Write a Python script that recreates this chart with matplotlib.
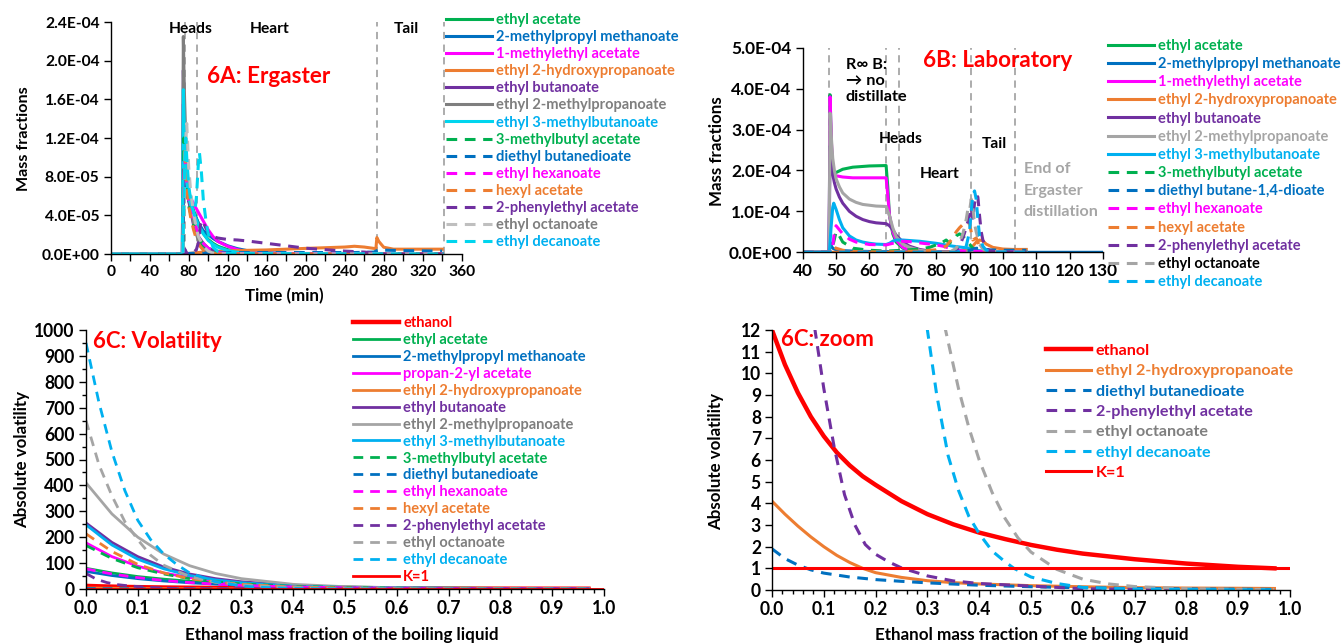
import matplotlib
matplotlib.use('Agg')
import numpy as np
import matplotlib.pyplot as plt
from matplotlib.ticker import MultipleLocator, FormatStrFormatter

plt.rcParams['font.family'] = ['Lato', 'DejaVu Sans']
plt.rcParams['font.weight'] = 'bold'
plt.rcParams['axes.labelweight'] = 'bold'

W, H = 1341, 644

GREEN = '#00B050'; BLUE = '#0070C0'; MAGENTA = '#FF00FF'; ORANGE = '#ED7D31'
PURPLE = '#7030A0'; GREY = '#7F7F7F'; LGREY = '#A5A5A5'; SILVER = '#BFBFBF'
CYAN = '#00D5EE'; SKY = '#00B0F0'; RED = '#FF0000'; VLINE = '#A6A6A6'

# ---------------- 6A: Ergaster (mass fraction x 1e-5 vs time, min) -------------
a_labels = ['ethyl acetate', '2-methylpropyl methanoate', '1-methylethyl acetate',
            'ethyl 2-hydroxypropanoate', 'ethyl butanoate', 'ethyl 2-methylpropanoate',
            'ethyl 3-methylbutanoate', '3-methylbutyl acetate', 'diethyl butanedioate',
            'ethyl hexanoate', 'hexyl acetate', '2-phenylethyl acetate',
            'ethyl octanoate', 'ethyl decanoate']
a_cuts = [76, 89, 273, 342]

a_t01 = [0, 74, 75, 76, 78, 80, 85, 90, 95, 100, 105, 110, 120, 130, 140, 160, 340]
a_y01 = [0, 0, 13.5, 11, 8, 6.5, 4.5, 3.1, 2.1, 1.5, 1.1, 0.8, 0.45, 0.25, 0.15, 0.05, 0]
a_t02 = [0, 74, 75, 76, 78, 80, 85, 90, 95, 100, 105, 110, 120, 130, 140, 160, 180, 340]
a_y02 = [0, 0, 9, 8, 6.5, 5.5, 4.3, 3.2, 2.4, 2.0, 1.6, 1.3, 0.85, 0.55, 0.35, 0.15, 0.05, 0]
a_t03 = [0, 73.5, 74.5, 76, 78, 80, 85, 90, 95, 100, 105, 110, 120, 130, 140, 160, 340]
a_y03 = [0, 0, 15.5, 10, 7.5, 6.2, 5.2, 4.3, 3.4, 2.5, 1.8, 1.3, 0.8, 0.45, 0.25, 0.07, 0]
a_t04 = [0, 78, 80, 90, 100, 120, 140, 160, 180, 200, 220, 240, 250, 260, 272, 273, 275, 280, 290, 340]
a_y04 = [0, 0, 0.05, 0.15, 0.25, 0.33, 0.38, 0.42, 0.5, 0.58, 0.65, 0.72, 0.8, 0.72, 0.55, 1.7, 1.3, 0.7, 0.5, 0.5]
a_t05 = [0, 73.5, 74.5, 76, 78, 80, 85, 90, 95, 100, 110, 120, 140, 340]
a_y05 = [0, 0, 19, 12, 8, 5.5, 3, 1.8, 1.1, 0.6, 0.2, 0.08, 0.01, 0]
a_t06 = [0, 73.5, 74.5, 75.5, 77, 78, 80, 82, 85, 88, 90, 95, 100, 110, 120, 340]
a_y06 = [0, 0, 22.5, 17, 12, 9, 6.5, 4.8, 3.2, 2.0, 1.4, 0.7, 0.25, 0.05, 0.01, 0]
a_t07 = [0, 73.5, 74.5, 76, 78, 80, 85, 90, 95, 100, 105, 110, 120, 130, 140, 160, 340]
a_y07 = [0, 0, 17, 11, 7.5, 5.8, 4.2, 3.0, 2.1, 1.4, 1.0, 0.7, 0.35, 0.18, 0.1, 0.03, 0]
a_t08 = [0, 74, 75, 76, 78, 80, 85, 90, 95, 100, 110, 120, 340]
a_y08 = [0, 0, 12, 10, 6.5, 5, 3, 1.7, 0.9, 0.5, 0.15, 0.05, 0]
a_t09 = [0, 78, 90, 150, 250, 270, 273, 276, 280, 300, 340]
a_y09 = [0, 0.05, 0.1, 0.15, 0.15, 0.2, 0.35, 0.45, 0.4, 0.35, 0.3]
a_t10 = [0, 74, 75, 76, 78, 80, 85, 90, 95, 100, 110, 120, 340]
a_y10 = [0, 0, 8, 10, 7, 5.5, 3.5, 2.0, 1.1, 0.6, 0.15, 0.03, 0]
a_t11 = [0, 74, 75, 76, 77, 78, 80, 82, 85, 88, 90, 95, 100, 110, 340]
a_y11 = [0, 0, 5, 11, 9, 7, 5, 3.8, 2.5, 1.5, 1.0, 0.4, 0.1, 0.02, 0]
a_t12 = [0, 75, 76, 77, 78, 80, 85, 88, 90, 92, 94, 97, 100, 105, 110, 120, 130, 140,
         160, 180, 200, 220, 240, 260, 272, 280, 340]
a_y12 = [0, 0, 0.5, 0.3, 0.1, 0, 0.1, 0.5, 1.2, 3.0, 3.5, 2.8, 2.2, 1.8, 1.65, 1.5, 1.45, 1.35,
         1.1, 0.85, 0.6, 0.45, 0.3, 0.2, 0.1, 0, 0]
a_t13 = [0, 74, 75, 76, 77, 78, 80, 82, 85, 88, 90, 95, 100, 105, 110, 340]
a_y13 = [0, 0, 4, 9, 12, 13.5, 9, 6.5, 4.2, 2.6, 1.8, 0.8, 0.3, 0.08, 0.02, 0]
a_t14 = [0, 74, 75, 76, 77, 78, 80, 83, 86, 88, 90, 91, 93, 95, 98, 100, 105, 110, 120, 340]
a_y14 = [0, 0, 5, 10, 12, 10, 7, 5, 4, 6, 9.5, 10.5, 8.5, 5.6, 3.2, 2.1, 0.7, 0.25, 0.05, 0]

# ---------------- 6B: Laboratory (mass fraction x 1e-4 vs time, min) -----------
b_labels = ['ethyl acetate', '2-methylpropyl methanoate', '1-methylethyl acetate',
            'ethyl 2-hydroxypropanoate', 'ethyl butanoate', 'ethyl 2-methylpropanoate',
            'ethyl 3-methylbutanoate', '3-methylbutyl acetate', 'diethyl butane-1,4-dioate',
            'ethyl hexanoate', 'hexyl acetate', '2-phenylethyl acetate',
            'ethyl octanoate', 'ethyl decanoate']
b_cuts = [48, 65, 69, 90.3, 103.6]

b_t01 = [40, 47.9, 48.2, 48.6, 49, 49.5, 50, 52, 55, 60, 65, 65.5, 66, 67, 68, 70, 72, 75, 78, 107]
b_y01 = [0, 0, 3.85, 2.6, 2.0, 1.92, 1.95, 2.03, 2.08, 2.11, 2.12, 1.6, 0.9, 0.45, 0.25, 0.1, 0.05, 0.02, 0, 0]
b_t02 = [40, 47.9, 48.2, 48.6, 49, 50, 52, 55, 60, 65, 70, 130]
b_y02 = [0, 0, 0.25, 0.15, 0.1, 0.06, 0.04, 0.03, 0.02, 0.02, 0, 0]
b_t03 = [40, 47.9, 48.2, 48.6, 49, 49.5, 50, 52, 55, 60, 65, 65.5, 66, 67, 68, 70, 72, 75, 78, 107]
b_y03 = [0, 0, 3.8, 2.7, 2.1, 1.9, 1.87, 1.84, 1.82, 1.82, 1.82, 1.4, 0.9, 0.5, 0.3, 0.12, 0.05, 0.02, 0, 0]
b_t04 = [40, 80, 85, 88, 90, 91, 92, 93, 94, 95, 97, 100, 103, 107]
b_y04 = [0, 0, 0.02, 0.05, 0.1, 0.15, 0.25, 0.3, 0.28, 0.2, 0.12, 0.08, 0.07, 0.07]
b_t05 = [40, 47.9, 48.2, 48.6, 49, 49.5, 50, 51, 52, 54, 56, 58, 60, 62, 65, 66, 67, 68, 70, 72, 75, 78, 80, 85, 107]
b_y05 = [0, 0, 2.6, 2.2, 1.9, 1.7, 1.55, 1.35, 1.2, 1.0, 0.88, 0.8, 0.75, 0.72, 0.7, 0.65, 0.55, 0.42, 0.25, 0.15, 0.07, 0.03, 0.02, 0, 0]
b_t06 = [40, 47.9, 48.2, 48.6, 49, 49.5, 50, 51, 52, 54, 56, 58, 60, 62, 65, 66, 67, 68, 70, 72, 75, 78, 80, 85, 107]
b_y06 = [0, 0, 3.4, 2.8, 2.3, 2.0, 1.8, 1.6, 1.45, 1.3, 1.22, 1.17, 1.15, 1.13, 1.12, 0.9, 0.6, 0.38, 0.2, 0.12, 0.05, 0.02, 0.01, 0, 0]
b_t07 = [40, 48, 48.5, 49, 49.3, 50, 51, 52, 54, 56, 58, 60, 62, 65, 66, 67, 68, 70, 75, 80, 85, 88, 90, 92, 95, 107]
b_y07 = [0, 0, 0.6, 1.1, 1.2, 1.05, 0.8, 0.6, 0.4, 0.3, 0.25, 0.22, 0.2, 0.19, 0.22, 0.27, 0.3, 0.3, 0.27, 0.22, 0.15, 0.12, 0.1, 0.05, 0.02, 0]
b_t08 = [40, 48.5, 49.3, 50, 51, 52, 55, 60, 65, 70, 75, 78, 80, 82, 83, 84, 85, 86, 87, 88, 89, 90, 91, 93, 95, 107]
b_y08 = [0, 0, 0.25, 0.5, 0.4, 0.25, 0.1, 0.05, 0.03, 0.05, 0.08, 0.12, 0.18, 0.25, 0.3, 0.22, 0.3, 0.4, 0.45, 0.4, 0.3, 0.2, 0.1, 0.04, 0.02, 0]
b_t09 = [40, 85, 88, 90, 92, 94, 96, 100, 107]
b_y09 = [0, 0, 0.03, 0.05, 0.1, 0.08, 0.06, 0.05, 0.05]
b_t10 = [40, 48.8, 49.5, 50, 51, 52, 54, 56, 60, 65, 67, 68, 70, 72, 75, 78, 80, 82, 84, 86, 88, 107]
b_y10 = [0, 0, 0.5, 0.65, 0.55, 0.45, 0.32, 0.25, 0.19, 0.18, 0.22, 0.25, 0.27, 0.26, 0.23, 0.2, 0.18, 0.15, 0.1, 0.06, 0.03, 0]
b_t11 = [40, 48.3, 49, 50, 52, 55, 60, 65, 70, 75, 80, 83, 85, 86, 87, 88, 89, 90, 90.5, 91, 92, 93, 94, 96, 100, 107]
b_y11 = [0, 0, 0.15, 0.1, 0.05, 0.02, 0.01, 0.01, 0.02, 0.03, 0.06, 0.15, 0.35, 0.5, 0.6, 0.68, 0.75, 0.7, 0.5, 0.3, 0.35, 0.15, 0.06, 0.02, 0, 0]
b_t12 = [40, 85, 86, 87, 88, 89, 90, 90.5, 91, 91.5, 92, 92.5, 93, 93.5, 94, 95, 96, 98, 107]
b_y12 = [0, 0, 0.05, 0.15, 0.35, 0.6, 0.9, 1.1, 0.8, 1.2, 1.4, 1.35, 0.9, 0.5, 0.3, 0.1, 0.04, 0.01, 0]
b_t13 = [40, 84, 86, 87, 88, 89, 89.5, 90, 90.5, 91, 91.5, 92, 93, 94, 96, 107]
b_y13 = [0, 0, 0.1, 0.25, 0.45, 0.8, 1.05, 1.0, 1.3, 1.1, 0.7, 0.5, 0.2, 0.08, 0.02, 0]
b_t14 = [40, 86, 88, 89, 90, 90.5, 91, 91.5, 92, 92.5, 93, 94, 95, 97, 107]
b_y14 = [0, 0, 0.05, 0.15, 0.5, 1.0, 1.4, 1.5, 1.3, 0.8, 0.4, 0.15, 0.05, 0.01, 0]

# ---------------- 6C: absolute volatility vs ethanol mass fraction ------------
c_labels = ['ethanol', 'ethyl acetate', '2-methylpropyl methanoate', 'propan-2-yl acetate',
            'ethyl 2-hydroxypropanoate', 'ethyl butanoate', 'ethyl 2-methylpropanoate',
            'ethyl 3-methylbutanoate', '3-methylbutyl acetate', 'diethyl butanedioate',
            'ethyl hexanoate', 'hexyl acetate', '2-phenylethyl acetate',
            'ethyl octanoate', 'ethyl decanoate', 'K=1']

x_eth = [0, 0.025, 0.05, 0.075, 0.1, 0.125, 0.15, 0.175, 0.2, 0.25, 0.3, 0.35, 0.4, 0.45,
         0.5, 0.55, 0.6, 0.7, 0.8, 0.9, 0.97]
k_eth = [12, 10.4, 9.1, 8.0, 7.1, 6.35, 5.75, 5.25, 4.85, 4.1, 3.5, 3.03, 2.65, 2.35,
         2.08, 1.86, 1.68, 1.42, 1.22, 1.07, 1.0]
x_grid = [0, 0.05, 0.1, 0.15, 0.2, 0.25, 0.3, 0.4, 0.5, 0.6, 0.7, 0.8, 0.9, 0.97]
k_etac = [80, 62, 48, 38, 30, 24, 19, 12, 8, 5, 3.5, 2.5, 2, 1.7]
k_mpm = [68, 52, 40, 31, 24, 19, 15, 9, 6, 4, 2.8, 2, 1.5, 1.3]
k_ipa = [178, 125, 88, 62, 44, 32, 23, 12, 7, 4, 2.5, 1.6, 1.1, 0.9]
x_lac = [0, 0.025, 0.05, 0.075, 0.1, 0.125, 0.15, 0.175, 0.2, 0.25, 0.3, 0.35, 0.4, 0.5,
         0.6, 0.7, 0.8, 0.9, 0.97]
k_lac = [4.1, 3.5, 2.95, 2.45, 2.0, 1.6, 1.27, 1.0, 0.8, 0.58, 0.43, 0.34, 0.28, 0.2,
         0.15, 0.11, 0.09, 0.08, 0.07]
k_but = [255, 180, 125, 85, 58, 40, 28, 14, 7, 4, 2.5, 1.6, 1.1, 0.9]
k_ibu = [410, 290, 200, 135, 90, 60, 40, 18, 9, 5, 3, 2, 1.3, 1]
k_mbu = [248, 170, 115, 78, 52, 35, 24, 11, 6, 3.5, 2.2, 1.4, 1, 0.8]
k_iam = [168, 118, 82, 58, 40, 28, 20, 10, 6, 3.5, 2.3, 1.6, 1.2, 1]
x_suc = [0, 0.025, 0.05, 0.075, 0.1, 0.15, 0.2, 0.25, 0.3, 0.4, 0.5, 0.6, 0.7, 0.8, 0.9, 0.97]
k_suc = [1.9, 1.45, 1.15, 0.93, 0.78, 0.6, 0.48, 0.4, 0.33, 0.22, 0.15, 0.1, 0.07, 0.05, 0.04, 0.03]
k_hex = [78, 58, 44, 33, 25, 19, 14, 8, 5, 3, 2, 1.3, 0.9, 0.7]
k_hac = [213, 145, 95, 62, 40, 27, 18, 8, 4, 2.2, 1.3, 0.8, 0.5, 0.4]
x_phe = [0, 0.02, 0.04, 0.06, 0.083, 0.1, 0.12, 0.14, 0.16, 0.18, 0.2, 0.225, 0.25, 0.3,
         0.35, 0.4, 0.5, 0.6, 0.7, 0.8, 0.9, 0.97]
k_phe = [60, 38, 25, 17, 12, 9.3, 6.6, 4.4, 3.0, 2.1, 1.65, 1.3, 1.02, 0.65,
         0.42, 0.3, 0.18, 0.06, 0.03, 0.02, 0.02, 0.02]
x_oct = [0, 0.025, 0.05, 0.075, 0.1, 0.125, 0.15, 0.2, 0.25, 0.3, 0.335, 0.36, 0.38, 0.4,
         0.425, 0.45, 0.475, 0.5, 0.55, 0.6, 0.65, 0.7, 0.8, 0.9, 0.97]
k_oct = [650, 480, 360, 260, 190, 130, 92, 48, 26, 16, 12, 9.3, 7.5, 6.0,
         4.5, 3.3, 2.4, 1.75, 0.95, 0.5, 0.28, 0.16, 0.06, 0.03, 0.02]
x_dec = [0, 0.025, 0.05, 0.075, 0.1, 0.125, 0.15, 0.175, 0.2, 0.25, 0.3, 0.318, 0.34, 0.36,
         0.38, 0.4, 0.425, 0.45, 0.467, 0.5, 0.55, 0.6, 0.7, 0.8, 0.9, 0.97]
k_dec = [950, 720, 530, 380, 265, 190, 135, 95, 62, 28, 12, 9, 6.2, 4.6,
         3.4, 2.6, 1.8, 1.3, 1.0, 0.6, 0.3, 0.12, 0.04, 0.02, 0.01, 0.01]
x_k1 = [0, 1.0]
k_k1 = [1, 1]

fig = plt.figure(figsize=(W / 100, H / 100), dpi=100)
renderer = fig.canvas.get_renderer()


def fit(s, px):
    # font size (pt) giving the string s a width of px pixels
    t = fig.text(0, 0, s, fontsize=20)
    w = t.get_window_extent(renderer).width
    t.remove()
    return 20 * px / w


def line_h(fs):
    t = fig.text(0, 0, 'lp', fontsize=fs)
    h = t.get_window_extent(renderer).height
    t.remove()
    return h


def px_axes(l, t, r, b):
    return fig.add_axes([l / W, 1 - b / H, (r - l) / W, (b - t) / H])


def ftext(x, y, s, fs, color='black', ha='left'):
    fig.text(x / W, 1 - y / H, s, fontsize=fs, color=color, ha=ha, va='center')


def style(ax, fs, xl, yl, lab_fs, xl_xy, yl_xy):
    for s in ['top', 'right']:
        ax.spines[s].set_visible(False)
    for s in ['left', 'bottom']:
        ax.spines[s].set_linewidth(1.0)
    ax.tick_params(which='both', direction='out', labelsize=fs, width=1, pad=3)
    ax.tick_params(which='major', length=5)
    ax.tick_params(which='minor', length=3)
    ax.set_xlabel(xl, fontsize=lab_fs[0], va='center')
    ax.set_ylabel(yl, fontsize=lab_fs[1], va='center')
    ax.xaxis.set_label_coords(*xl_xy)
    ax.yaxis.set_label_coords(*yl_xy)


def legend(ax, handles, labels, colors, x, y_first, fs, pitch):
    fpx = fs * 100 / 72
    h = line_h(fs)
    leg = ax.legend(handles, labels, loc='upper left',
                    bbox_to_anchor=(x / W, 1 - (y_first - h / 2) / H),
                    bbox_transform=fig.transFigure, fontsize=fs, handlelength=45.5 / fpx,
                    handletextpad=4.5 / fpx, labelspacing=(pitch - h) / fpx, borderpad=0,
                    borderaxespad=0, frameon=False)
    for txt, c in zip(leg.get_texts(), colors):
        txt.set_color(c)
    return leg


D = (3.5, 2.5)
leg_fs = fit('2-methylpropyl methanoate', 183)

# ---------- 6A ----------
ax = px_axes(110.7, 22, 461.7, 254)
a_t = [a_t01, a_t02, a_t03, a_t04, a_t05, a_t06, a_t07, a_t08, a_t09, a_t10, a_t11, a_t12, a_t13, a_t14]
a_y = [a_y01, a_y02, a_y03, a_y04, a_y05, a_y06, a_y07, a_y08, a_y09, a_y10, a_y11, a_y12, a_y13, a_y14]
a_col = [GREEN, BLUE, MAGENTA, ORANGE, PURPLE, GREY, CYAN,
         GREEN, BLUE, MAGENTA, ORANGE, PURPLE, SILVER, CYAN]
a_txt = [GREEN, BLUE, MAGENTA, ORANGE, PURPLE, GREY, SKY,
         GREEN, BLUE, MAGENTA, ORANGE, PURPLE, GREY, SKY]
for c in a_cuts:
    ax.axvline(c, color=VLINE, lw=1.3, dashes=(4, 3), zorder=1)
hs = []
for i, (t, y, c) in enumerate(zip(a_t, a_y, a_col)):
    kw = dict(dashes=D) if i >= 7 else {}
    h, = ax.plot(t, np.array(y) * 1e-5, color=c, lw=2.2, **kw)
    hs.append(h)
ax.set_xlim(0, 360)
ax.set_ylim(0, 2.4e-4)
ax.xaxis.set_major_locator(MultipleLocator(40))
ax.xaxis.set_minor_locator(MultipleLocator(20))
ax.yaxis.set_major_locator(MultipleLocator(4e-5))
ax.yaxis.set_major_formatter(FormatStrFormatter('%.1E'))
style(ax, fit('2.4E-04', 55), 'Time (min)', 'Mass fractions',
      (fit('Time (min)', 79), fit('Mass fractions', 105)), (0.495, -0.181), (-0.247, 0.498))
ax.tick_params(which='minor', length=5)
fs = fit('Heads', 44)
ftext(190.7, 29, 'Heads', fs, ha='center')
ftext(269.7, 29, 'Heart', fs, ha='center')
ftext(406.7, 29, 'Tail', fs, ha='center')
ftext(207.3, 76.7, '6A: Ergaster', fit('6A: Ergaster', 123), RED)
legend(ax, hs, a_labels, a_txt, 446, 20, leg_fs, 17.1)

# ---------- 6B ----------
ax = px_axes(802.7, 47.7, 1103, 252.3)
b_t = [b_t01, b_t02, b_t03, b_t04, b_t05, b_t06, b_t07, b_t08, b_t09, b_t10, b_t11, b_t12, b_t13, b_t14]
b_y = [b_y01, b_y02, b_y03, b_y04, b_y05, b_y06, b_y07, b_y08, b_y09, b_y10, b_y11, b_y12, b_y13, b_y14]
b_col = [GREEN, BLUE, MAGENTA, ORANGE, PURPLE, LGREY, SKY,
         GREEN, BLUE, MAGENTA, ORANGE, PURPLE, LGREY, SKY]
b_txt = [GREEN, BLUE, MAGENTA, ORANGE, PURPLE, LGREY, SKY,
         GREEN, BLUE, MAGENTA, ORANGE, PURPLE, 'black', SKY]
for c in b_cuts:
    ax.axvline(c, color=VLINE, lw=1.3, dashes=(4, 3), zorder=1)
hs = []
for i, (t, y, c) in enumerate(zip(b_t, b_y, b_col)):
    kw = dict(dashes=D) if i >= 7 else {}
    h, = ax.plot(t, np.array(y) * 1e-4, color=c, lw=2.2, **kw)
    hs.append(h)
ax.set_xlim(40, 130)
ax.set_ylim(0, 5e-4)
ax.xaxis.set_major_locator(MultipleLocator(10))
ax.yaxis.set_major_locator(MultipleLocator(1e-4))
ax.yaxis.set_major_formatter(FormatStrFormatter('%.1E'))
style(ax, fit('5.0E-04', 61), 'Time (min)', 'Mass fractions',
      (fit('Time (min)', 83), fit('Mass fractions', 110)), (0.4955, -0.209), (-0.286, 0.496))
fs = fit('distillate', 62)
ftext(845.7, 65, 'R\u221e B:', fs)
ftext(845.7, 81, '\u2192 no', fs)
ftext(845.7, 97.3, 'distillate', fs)
fs = fit('Heads', 44)
ftext(900.3, 139, 'Heads', fs, ha='center')
ftext(939.7, 174, 'Heart', fs, ha='center')
ftext(994.7, 144, 'Tail', fs, ha='center')
fs = fit('distillation', 75)
ftext(1024, 169, 'End of', fs, VLINE)
ftext(1024, 190.7, 'Ergaster', fs, VLINE)
ftext(1024, 211.7, 'distillation', fs, VLINE)
ftext(923.3, 60.7, '6B: Laboratory', fit('6B: Laboratory', 149), RED)
legend(ax, hs, b_labels, b_txt, 1108, 45.7, leg_fs, 18.2)

# ---------- 6C ----------
c_x = [x_eth, x_grid, x_grid, x_grid, x_lac, x_grid, x_grid, x_grid, x_grid, x_suc,
       x_grid, x_grid, x_phe, x_oct, x_dec, x_k1]
c_k = [k_eth, k_etac, k_mpm, k_ipa, k_lac, k_but, k_ibu, k_mbu, k_iam, k_suc,
       k_hex, k_hac, k_phe, k_oct, k_dec, k_k1]
c_col = [RED, GREEN, BLUE, MAGENTA, ORANGE, PURPLE, LGREY, SKY,
         GREEN, BLUE, MAGENTA, ORANGE, PURPLE, LGREY, SKY, RED]
c_txt = [RED, GREEN, BLUE, MAGENTA, ORANGE, PURPLE, GREY, SKY,
         GREEN, BLUE, MAGENTA, ORANGE, PURPLE, GREY, SKY, RED]
tick_fs = fit('1000', 41)
xl = 'Ethanol mass fraction of the boiling liquid'
lab_fs = (fit(xl, 313), fit('Absolute volatility', 137))

ax = px_axes(86, 330, 604, 589)
hs = []
for i, (x, k, c) in enumerate(zip(c_x, c_k, c_col)):
    kw = dict(dashes=D) if 8 <= i <= 14 else {}
    lw = 3.2 if i == 0 else 2.0
    h, = ax.plot(x, k, color=c, lw=lw, **kw)
    hs.append(h)
ax.set_xlim(0, 1)
ax.set_ylim(0, 1000)
ax.xaxis.set_major_locator(MultipleLocator(0.1))
ax.xaxis.set_minor_locator(MultipleLocator(0.02))
ax.yaxis.set_major_locator(MultipleLocator(100))
ax.yaxis.set_minor_locator(MultipleLocator(50))
ax.xaxis.set_major_formatter(FormatStrFormatter('%.1f'))
style(ax, tick_fs, xl, 'Absolute volatility', lab_fs, (0.494, -0.178), (-0.124, 0.5))
ftext(93.3, 341.7, '6C: Volatility', fit('6C: Volatility', 129), RED)
legend(ax, hs, c_labels, c_txt, 353, 323.3, leg_fs, 16.9)

# ---------- 6C: zoom ----------
sel = [0, 4, 9, 12, 13, 14, 15]
ax = px_axes(772, 330, 1290, 590)
hs = []
for i in sel:
    kw = dict(dashes=D) if 8 <= i <= 14 else {}
    lw = 3.2 if i == 0 else 2.2
    h, = ax.plot(c_x[i], c_k[i], color=c_col[i], lw=lw, **kw)
    hs.append(h)
ax.set_xlim(0, 1)
ax.set_ylim(0, 12)
ax.xaxis.set_major_locator(MultipleLocator(0.1))
ax.xaxis.set_minor_locator(MultipleLocator(0.02))
ax.yaxis.set_major_locator(MultipleLocator(1))
ax.xaxis.set_major_formatter(FormatStrFormatter('%.1f'))
style(ax, tick_fs, xl, 'Absolute volatility', lab_fs, (0.5016, -0.173), (-0.108, 0.493))
ftext(780.7, 340, '6C: zoom', fit('6C: zoom', 93), RED)
legend(ax, hs, [c_labels[i] for i in sel], [c_txt[i] for i in sel], 1045.6, 350.7,
       fit('ethyl 2-hydroxypropanoate', 198), 20)

fig.savefig('out.png', dpi=100)
